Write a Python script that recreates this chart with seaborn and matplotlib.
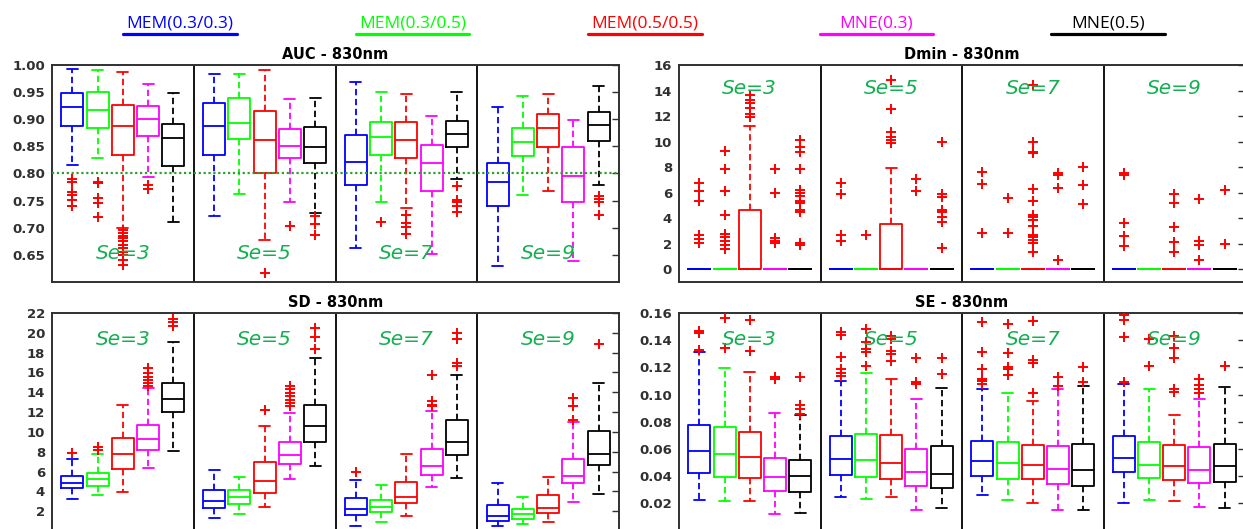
import numpy as np
import pandas as pd
import matplotlib
matplotlib.use("Agg")
import matplotlib.pyplot as plt
from matplotlib.lines import Line2D
import seaborn as sns

# ---------------- data ----------------
METHODS = ["MEM(0.3/0.3)", "MEM(0.3/0.5)", "MEM(0.5/0.5)", "MNE(0.3)", "MNE(0.5)"]
COLORS = ["#0000FF", "#00FF00", "#FF0000", "#FF00FF", "#000000"]
SE_LABELS = ["Se=3", "Se=5", "Se=7", "Se=9"]

# rows: methods, columns: Se=3,5,7,9
AUC_HI = [[0.992, 0.984, 0.969, 0.922], [0.991, 0.983, 0.951, 0.943], [0.988, 0.990, 0.947, 0.947],
          [0.965, 0.938, 0.906, 0.899], [0.949, 0.940, 0.951, 0.961]]
AUC_Q3 = [[0.949, 0.930, 0.871, 0.820], [0.950, 0.940, 0.895, 0.883], [0.926, 0.916, 0.895, 0.909],
          [0.925, 0.882, 0.853, 0.848], [0.892, 0.886, 0.896, 0.913]]
AUC_MED = [[0.922, 0.888, 0.822, 0.785], [0.917, 0.893, 0.867, 0.858], [0.888, 0.862, 0.861, 0.883],
           [0.900, 0.851, 0.819, 0.796], [0.866, 0.849, 0.872, 0.889]]
AUC_Q1 = [[0.888, 0.835, 0.778, 0.741], [0.883, 0.863, 0.834, 0.832], [0.834, 0.801, 0.829, 0.848],
          [0.869, 0.828, 0.768, 0.747], [0.814, 0.819, 0.849, 0.859]]
AUC_LO = [[0.815, 0.722, 0.662, 0.629], [0.829, 0.762, 0.747, 0.761], [0.700, 0.678, 0.737, 0.768],
          [0.793, 0.748, 0.652, 0.639], [0.710, 0.728, 0.790, 0.779]]
AUC_OUT = [
    [[0.790, 0.785, 0.765, 0.760, 0.752, 0.740], [], [], []],
    [[0.785, 0.782, 0.755, 0.745, 0.719], [], [0.711], []],
    [[0.696, 0.690, 0.685, 0.681, 0.675, 0.668, 0.662, 0.656, 0.650, 0.641, 0.632], [0.617],
     [0.724, 0.709, 0.702, 0.689], []],
    [[0.779, 0.772], [0.703], [], []],
    [[], [0.722, 0.706, 0.687], [0.777, 0.752, 0.747, 0.740, 0.729], [0.759, 0.753, 0.748, 0.724]],
]

DMIN_HI = [[0, 0, 0, 0], [0, 0, 0, 0], [11.23, 7.96, 0, 0], [0, 0, 0, 0], [0, 0, 0, 0]]
DMIN_Q3 = [[0, 0, 0, 0], [0, 0, 0, 0], [4.67, 3.52, 0, 0], [0, 0, 0, 0], [0, 0, 0, 0]]
DMIN_MED = [[0, 0, 0, 0]] * 5
DMIN_Q1 = [[0, 0, 0, 0]] * 5
DMIN_LO = [[0, 0, 0, 0]] * 5
DMIN_OUT = [
    [[6.79, 6.14, 5.38, 2.69, 2.38, 2.04], [6.79, 5.87, 2.69, 2.25], [7.65, 6.66, 2.82],
     [7.52, 7.39, 3.60, 2.64, 1.83]],
    [[9.29, 7.86, 6.14, 4.26, 2.77, 2.50, 2.25, 1.91, 1.57], [2.69], [5.61, 2.82], []],
    [[13.65, 13.26, 13.00, 12.60, 12.20, 11.96], [14.83, 12.53, 10.78, 10.39, 10.13, 9.92],
     [14.40, 10.00, 9.22, 9.09, 6.27, 5.35, 4.26, 4.13, 3.86, 3.39, 2.69, 2.50, 2.30, 2.09, 1.38],
     [5.90, 5.17, 3.29, 2.17, 1.33]],
    [[7.86, 6.00, 2.43, 2.25, 2.04], [7.08, 6.10], [7.52, 7.39, 6.34, 0.73], [5.51, 2.25, 1.91, 0.73]],
    [[10.13, 9.60, 9.20, 7.86, 6.20, 5.95, 5.70, 5.38, 5.17, 4.65, 4.46, 2.04, 1.91],
     [10.00, 5.90, 5.69, 4.65, 4.46, 4.13, 3.68, 1.70], [7.99, 6.60, 5.12], [6.21, 1.98]],
]

SD_HI = [[7.25, 6.16, 5.15, 4.88], [7.79, 5.49, 4.64, 3.39], [12.76, 10.63, 7.79, 5.49],
         [14.45, 11.92, 12.08, 10.97], [19.09, 17.47, 15.71, 14.96]]
SD_Q3 = [[5.59, 4.10, 3.29, 2.61], [5.86, 4.10, 3.12, 2.17], [9.38, 6.94, 4.98, 3.62],
         [10.73, 8.94, 8.26, 7.28], [14.93, 12.69, 11.17, 10.05]]
SD_MED = [[4.88, 2.98, 2.27, 1.53], [5.21, 3.46, 2.44, 1.70], [7.82, 5.08, 3.46, 2.34],
          [9.28, 7.62, 6.57, 5.59], [13.37, 10.63, 8.94, 7.82]]
SD_Q1 = [[4.34, 2.34, 1.66, 1.02], [4.57, 2.68, 1.93, 1.22], [6.23, 3.79, 2.78, 1.86],
         [8.13, 6.77, 5.66, 4.81], [11.98, 9.00, 7.72, 6.67]]
SD_LO = [[3.18, 1.32, 0.55, 0.48], [3.59, 1.76, 0.92, 0.68], [3.96, 2.44, 1.49, 0.92],
         [6.40, 5.22, 4.40, 2.95], [8.06, 6.53, 5.32, 3.73]]
SD_OUT = [
    [[7.92], [], [5.99], []],
    [[8.46, 8.19], [], [], []],
    [[], [12.19], [], []],
    [[16.42, 15.98, 15.57, 15.23, 14.89, 14.62], [14.62, 14.28, 13.95, 13.61, 13.27, 12.93, 12.59],
     [15.71, 13.10, 12.76, 12.59], [13.44, 12.59, 11.24]],
    [[21.39, 21.05, 20.65], [20.44, 19.56, 18.35], [19.94, 19.36, 16.92, 16.65], [18.85]],
]

SE_HI = [[0.1310, 0.1097, 0.1038, 0.1075], [0.1196, 0.1156, 0.1008, 0.1038], [0.1164, 0.1117, 0.0952, 0.0853],
         [0.0865, 0.0969, 0.1043, 0.0969], [0.0846, 0.1048, 0.1063, 0.1058]]
SE_Q3 = [[0.0777, 0.0693, 0.0661, 0.0693], [0.0762, 0.0713, 0.0653, 0.0649], [0.0727, 0.0703, 0.0626, 0.0631],
         [0.0530, 0.0600, 0.0624, 0.0614], [0.0518, 0.0619, 0.0636, 0.0639]]
SE_MED = [[0.0584, 0.0523, 0.0513, 0.0533], [0.0560, 0.0518, 0.0496, 0.0484], [0.0540, 0.0496, 0.0481, 0.0471],
          [0.0395, 0.0429, 0.0454, 0.0446], [0.0404, 0.0417, 0.0444, 0.0476]]
SE_Q1 = [[0.0424, 0.0409, 0.0404, 0.0432], [0.0397, 0.0392, 0.0377, 0.0387], [0.0387, 0.0377, 0.0380, 0.0373],
         [0.0289, 0.0328, 0.0343, 0.0353], [0.0286, 0.0316, 0.0331, 0.0360]]
SE_LO = [[0.0225, 0.0244, 0.0264, 0.0205], [0.0220, 0.0230, 0.0225, 0.0225], [0.0215, 0.0249, 0.0200, 0.0220],
         [0.0124, 0.0151, 0.0151, 0.0175], [0.0126, 0.0163, 0.0151, 0.0163]]
SE_OUT = [
    [[0.147, 0.145, 0.1326], [0.1462, 0.1437, 0.128, 0.1186, 0.1161, 0.1137],
     [0.1536, 0.1314, 0.1191, 0.1117, 0.110, 0.108], [0.1585, 0.155, 0.142, 0.1092]],
    [[0.156, 0.134], [0.148, 0.1383, 0.1334, 0.131, 0.121], [0.1519, 0.1309, 0.1206, 0.1186, 0.1142],
     [0.1408, 0.121]],
    [[0.155, 0.132], [0.1432, 0.141, 0.132, 0.130, 0.1248], [0.1543, 0.1255, 0.123, 0.1008],
     [0.1432, 0.1346, 0.1272, 0.1043, 0.1018]],
    [[0.113, 0.1117], [0.1272, 0.1092, 0.1075], [0.1132, 0.1063], [0.1117, 0.1068, 0.1038, 0.1013]],
    [[0.113, 0.092, 0.0895, 0.086], [0.1272, 0.1149], [0.1203, 0.1092], [0.121]],
]

# ---------------- style ----------------
sns.set_theme(style="white")
plt.rcParams["font.family"] = ["DejaVu Sans"]

W, H = 1243, 529
fig = plt.figure(figsize=(W / 100, H / 100), dpi=100)

STEP = 0.178      # spacing of the 5 boxes inside one Se group (group width = 1)
SE_GREEN = "#12B050"
LW = 1.3


def px_axes(left, top, right, bottom):
    return fig.add_axes([left / W, 1 - bottom / H, (right - left) / W, (bottom - top) / H])


def draw_panel(ax, title, lo, q1, med, q3, hi, out, ylim, yticks, fmt, se_y):
    box_rows, out_rows = [], []
    for k, m in enumerate(METHODS):
        for g in range(4):
            pos = g + (k - 2) * STEP
            for v in (lo[k][g], q1[k][g], med[k][g], q3[k][g], hi[k][g]):
                box_rows.append({"pos": pos, "value": v, "method": m})
            for v in out[k][g]:
                out_rows.append({"pos": pos, "value": v})
    bdf = pd.DataFrame(box_rows)
    odf = pd.DataFrame(out_rows)
    sns.boxplot(data=bdf, x="pos", y="value", hue="method", hue_order=METHODS, palette=COLORS,
                native_scale=True, dodge=False, orient="x", whis=(0, 100), fill=False,
                width=0.87, linewidth=LW, showfliers=False, legend=False, ax=ax,
                whiskerprops={"linestyle": (0, (3.5, 2))})
    if len(odf):
        sns.scatterplot(data=odf, x="pos", y="value", marker="+", color="#FF0000", s=48,
                        linewidth=1.4, legend=False, ax=ax, zorder=5)
    for b in (0.5, 1.5, 2.5):
        ax.axvline(b, color="black", lw=LW, zorder=1)
    for g, lab in enumerate(SE_LABELS):
        ax.text(g, se_y, lab, color=SE_GREEN, fontsize=14.5, fontstyle="italic",
                ha="center", va="center", zorder=6)
    ax.set_xlim(-0.5, 3.5)
    ax.set_ylim(*ylim)
    ax.set_xticks([])
    ax.set_yticks(yticks)
    ax.set_yticklabels([fmt.format(t) for t in yticks], fontsize=9.5, fontweight="bold", color="#303030")
    ax.tick_params(axis="y", which="both", left=False, right=True, direction="in",
                   length=5, width=1, color="#303030", pad=5)
    ax.set_xlabel("")
    ax.set_ylabel("")
    for s in ax.spines.values():
        s.set_color("#303030")
        s.set_linewidth(1.4)
    ax.set_title(title, fontsize=10.5, fontweight="bold", color="black", pad=4)


ax1 = px_axes(52, 65, 619, 282)
draw_panel(ax1, "AUC - 830nm", AUC_LO, AUC_Q1, AUC_MED, AUC_Q3, AUC_HI, AUC_OUT,
           (0.60, 1.00), np.round(np.arange(0.65, 1.001, 0.05), 2), "{:.2f}", 0.653)
ax1.axhline(0.8, color="#2E9E2E", lw=1.6, ls=(0, (1, 1.2)), zorder=4)

ax2 = px_axes(679, 65, 1245, 282)
draw_panel(ax2, "Dmin - 830nm", DMIN_LO, DMIN_Q1, DMIN_MED, DMIN_Q3, DMIN_HI, DMIN_OUT,
           (-1, 16), np.arange(0, 17, 2), "{:d}", 14.16)

ax3 = px_axes(52, 313, 619, 531)
draw_panel(ax3, "SD - 830nm", SD_LO, SD_Q1, SD_MED, SD_Q3, SD_HI, SD_OUT,
           (0, 22), np.arange(2, 23, 2), "{:d}", 19.36)

ax4 = px_axes(679, 313, 1245, 530.5)
draw_panel(ax4, "SE - 830nm", SE_LO, SE_Q1, SE_MED, SE_Q3, SE_HI, SE_OUT,
           (0, 0.16), np.round(np.arange(0.02, 0.161, 0.02), 2), "{:.2f}", 0.1407)

# ---------------- legend (labels over coloured bars) ----------------
LEG_CX = [179.5, 412.5, 645, 876.5, 1108]
for cx, lab, col in zip(LEG_CX, METHODS, COLORS):
    fig.text(cx / W, 1 - 27 / H, lab, color=col, fontsize=12.5, family=["Open Sans", "DejaVu Sans"],
             ha="center", va="baseline")
    fig.add_artist(Line2D([(cx - 57) / W, (cx + 57) / W], [1 - 34 / H, 1 - 34 / H],
                          color=col, lw=2.3, transform=fig.transFigure))

fig.savefig("out.png", dpi=100)
